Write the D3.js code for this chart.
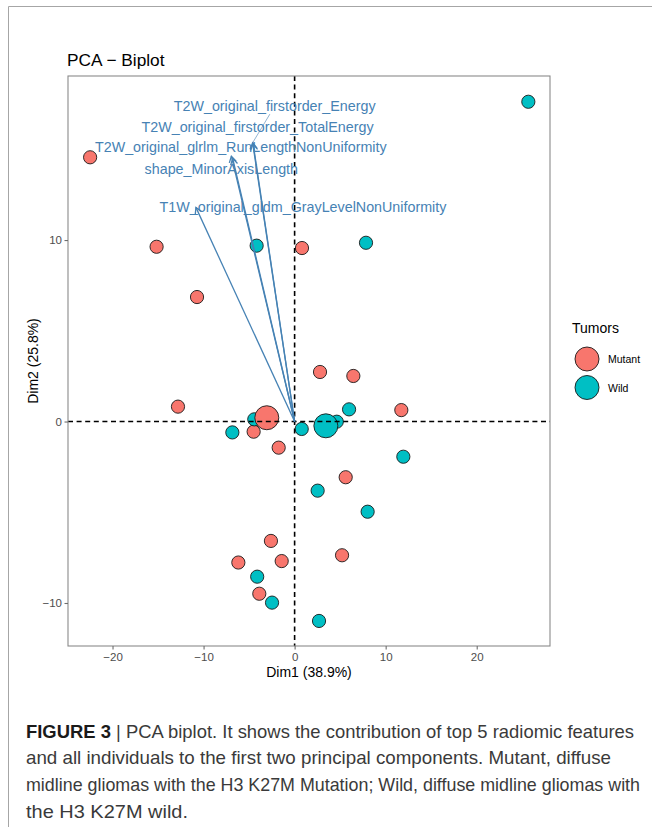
<!DOCTYPE html>
<html>
<head>
<meta charset="utf-8">
<script src="https://cdn.jsdelivr.net/npm/d3@7"></script>
<style>
  html, body { margin: 0; padding: 0; background: #fff; }
  svg { display: block; font-family: "Liberation Sans", Arial, Helvetica, sans-serif; }
</style>
</head>
<body>
<svg id="chart" width="652" height="827"></svg>
<script>
// Individuals on the first two principal components
const groups = ["Mutant", "Wild"];
const groupColors = ["#F8766D", "#00BFC4"];

const mutantDim1 = [-22.46, -15.16, -10.72, -12.81, 0.81, 2.79, 6.45, 11.72, -4.50, -1.75, 5.61, -2.60, -6.18, -1.42, 5.21, -3.88];
const mutantDim2 = [14.56, 9.63, 6.86, 0.82, 9.56, 2.73, 2.51, 0.63, -0.56, -1.44, -3.07, -6.58, -7.77, -7.69, -7.37, -9.49];

const wildDim1 = [25.67, -4.17, 7.84, 5.98, 4.63, -4.43, -6.84, 0.78, 11.94, 2.53, 8.02, -4.11, -2.48, 2.68];
const wildDim2 = [17.62, 9.69, 9.85, 0.67, -0.01, 0.12, -0.60, -0.41, -1.94, -3.81, -4.97, -8.55, -9.98, -10.99];

// Top 5 contributing variables (scaled loadings)
const varNames = [
  "T2W_original_firstorder_Energy",
  "T2W_original_firstorder_TotalEnergy",
  "T2W_original_glrlm_RunLengthNonUniformity",
  "shape_MinorAxisLength",
  "T1W_original_gldm_GrayLevelNonUniformity"
];
const varDim1 = [-4.61, -4.55, -6.95, -6.80, -10.84];
const varDim2 = [15.36, 15.30, 14.62, 14.50, 11.80];

// Repelled label anchors (data units)
const labelDim1 = [-2.19, -4.07, -5.91, -8.05, 0.92];
const labelDim2 = [17.38, 16.24, 15.11, 13.90, 11.83];

const xTicks = [-20, -10, 0, 10, 20];
const yTicks = [-10, 0, 10];

const captionLines = [
  [["FIGURE 3", true], [" | PCA biplot. It shows the contribution of top 5 radiomic features", false]],
  [["and all individuals to the first two principal components. Mutant, diffuse", false]],
  [["midline gliomas with the H3 K27M Mutation; Wild, diffuse midline gliomas with", false]],
  [["the H3 K27M wild.", false]]
];
// set widths of the caption lines
const captionWidths = [608, 585, 614, 162];

// ---------------------------------------------------------------------------
const svg = d3.select("#chart");
const panel = { left: 68, right: 550, top: 76, bottom: 646 };

const x = d3.scaleLinear().domain([-24.89, 28.05]).range([panel.left, panel.right]);
const y = d3.scaleLinear().domain([-12.37, 19.04]).range([panel.bottom, panel.top]);
const color = d3.scaleOrdinal().domain(groups).range(groupColors);

// outer figure frame
svg.append("path")
  .attr("d", "M8.5,827 L8.5,6.5 L652,6.5")
  .attr("fill", "none").attr("stroke", "#a6a6a6").attr("stroke-width", 1);

// title
svg.append("text")
  .attr("x", 67).attr("y", 66)
  .attr("font-size", 17.3).attr("fill", "#000")
  .text("PCA \u2212 Biplot");

// individuals
const individuals = [];
mutantDim1.forEach((d, i) => individuals.push({ g: "Mutant", x: d, y: mutantDim2[i] }));
wildDim1.forEach((d, i) => individuals.push({ g: "Wild", x: d, y: wildDim2[i] }));

const plot = svg.append("g");

plot.selectAll("circle.ind")
  .data(individuals)
  .join("circle")
  .attr("class", "ind")
  .attr("cx", d => x(d.x)).attr("cy", d => y(d.y))
  .attr("r", 6.6)
  .attr("fill", d => color(d.g))
  .attr("stroke", "#1a1a1a").attr("stroke-width", 0.9);

// group mean points
const means = groups.map(g => {
  const pts = individuals.filter(d => d.g === g);
  return { g, x: d3.mean(pts, d => d.x), y: d3.mean(pts, d => d.y) };
});
plot.selectAll("circle.mean")
  .data(means)
  .join("circle")
  .attr("class", "mean")
  .attr("cx", d => x(d.x)).attr("cy", d => y(d.y))
  .attr("r", 12)
  .attr("fill", d => color(d.g))
  .attr("stroke", "#1a1a1a").attr("stroke-width", 0.9);

// reference lines at zero
plot.append("line")
  .attr("x1", panel.left).attr("x2", panel.right)
  .attr("y1", y(0)).attr("y2", y(0))
  .attr("stroke", "#000").attr("stroke-width", 1.6).attr("stroke-dasharray", "5,3.6");
plot.append("line")
  .attr("x1", x(0)).attr("x2", x(0))
  .attr("y1", panel.top).attr("y2", panel.bottom)
  .attr("stroke", "#000").attr("stroke-width", 1.6).attr("stroke-dasharray", "5,3.6");

// variable arrows
const steel = "#4682B4";
const vars = varNames.map((n, i) => ({
  name: n, x: varDim1[i], y: varDim2[i], lx: labelDim1[i], ly: labelDim2[i]
}));
const headLen = 7, headAng = Math.PI / 6;
vars.forEach(v => {
  const x0 = x(0), y0 = y(0), x1 = x(v.x), y1 = y(v.y);
  const a = Math.atan2(y1 - y0, x1 - x0);
  plot.append("line")
    .attr("x1", x0).attr("y1", y0).attr("x2", x1).attr("y2", y1)
    .attr("stroke", steel).attr("stroke-width", 1.3);
  const hx1 = x1 - headLen * Math.cos(a - headAng), hy1 = y1 - headLen * Math.sin(a - headAng);
  const hx2 = x1 - headLen * Math.cos(a + headAng), hy2 = y1 - headLen * Math.sin(a + headAng);
  plot.append("path")
    .attr("d", `M${hx1},${hy1} L${x1},${y1} L${hx2},${hy2}`)
    .attr("fill", "none").attr("stroke", steel).attr("stroke-width", 1.3);
});

// variable labels with repel-style connectors
vars.forEach(v => {
  const cx = x(v.lx), cy = y(v.ly);
  const t = plot.append("text")
    .attr("x", cx).attr("y", cy)
    .attr("text-anchor", "middle").attr("dominant-baseline", "central")
    .attr("font-size", 14.3).attr("fill", steel)
    .text(v.name);
  const bb = t.node().getBBox();
  const tx = x(v.x), ty = y(v.y);
  const hw = bb.width / 2 + 1, hh = bb.height / 2;
  const dx = tx - cx, dy = ty - cy;
  const s = Math.min(Math.abs(dx) > 0 ? hw / Math.abs(dx) : Infinity, Math.abs(dy) > 0 ? hh / Math.abs(dy) : Infinity);
  if (s < 1) {
    const sx = cx + dx * s, sy = cy + dy * s;
    const gap = Math.hypot(tx - sx, ty - sy);
    if (gap > 12) {
      plot.append("line")
        .attr("x1", sx).attr("y1", sy).attr("x2", tx).attr("y2", ty)
        .attr("stroke", steel).attr("stroke-width", 0.6);
    }
  }
});

// panel border
svg.append("rect")
  .attr("x", panel.left).attr("y", panel.top)
  .attr("width", panel.right - panel.left).attr("height", panel.bottom - panel.top)
  .attr("fill", "none").attr("stroke", "#8a8a8a").attr("stroke-width", 1.1);

// axes
const xAxis = svg.append("g")
  .attr("transform", `translate(0,${panel.bottom})`)
  .call(d3.axisBottom(x).tickValues(xTicks).tickSize(3.5).tickPadding(3.5));
const yAxis = svg.append("g")
  .attr("transform", `translate(${panel.left},0)`)
  .call(d3.axisLeft(y).tickValues(yTicks).tickSize(3.5).tickPadding(2.5));
[xAxis, yAxis].forEach(g => {
  g.select(".domain").remove();
  g.selectAll(".tick line").attr("stroke", "#6e6e6e").attr("stroke-width", 1.1);
  g.selectAll(".tick text")
    .attr("fill", "#4d4d4d").attr("font-size", 11.5)
    .attr("font-family", "Liberation Sans, Arial, sans-serif");
});

// axis titles
svg.append("text")
  .attr("x", (panel.left + panel.right) / 2).attr("y", 677)
  .attr("text-anchor", "middle").attr("font-size", 14).attr("fill", "#000")
  .text("Dim1 (38.9%)");
svg.append("text")
  .attr("transform", `translate(38,${(panel.top + panel.bottom) / 2}) rotate(-90)`)
  .attr("text-anchor", "middle").attr("font-size", 14).attr("fill", "#000")
  .text("Dim2 (25.8%)");

// legend
const legend = svg.append("g");
legend.append("text")
  .attr("x", 572).attr("y", 333)
  .attr("font-size", 14).attr("fill", "#000")
  .text("Tumors");
groups.forEach((g, i) => {
  const cy = 359 + i * 28.5;
  legend.append("circle")
    .attr("cx", 587).attr("cy", cy).attr("r", 12)
    .attr("fill", color(g)).attr("stroke", "#1a1a1a").attr("stroke-width", 0.9);
  legend.append("text")
    .attr("x", 608).attr("y", cy)
    .attr("dominant-baseline", "central")
    .attr("font-size", 10.5).attr("fill", "#000")
    .text(g);
});

// caption
const caption = svg.append("g");
captionLines.forEach((parts, i) => {
  const t = caption.append("text")
    .attr("x", 26).attr("y", 737.5 + i * 26.7)
    .attr("font-size", 18.2).attr("fill", "#3a3a3a")
    .attr("textLength", captionWidths[i])
    .attr("lengthAdjust", "spacingAndGlyphs");
  parts.forEach(([txt, bold]) => {
    t.append("tspan")
      .attr("font-weight", bold ? "bold" : "normal")
      .attr("fill", bold ? "#1a1a1a" : "#3a3a3a")
      .text(txt);
  });
});
</script>
</body>
</html>
